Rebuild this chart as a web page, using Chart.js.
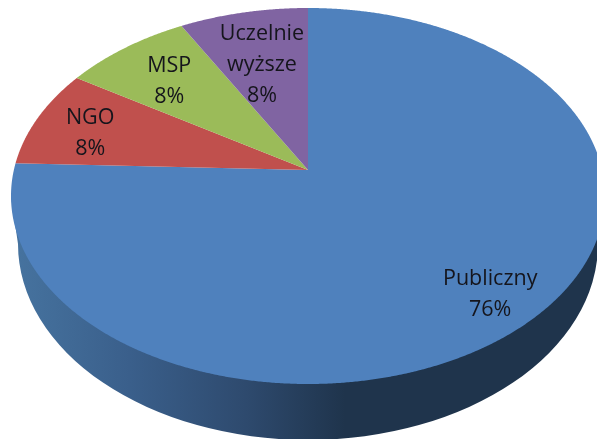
<!DOCTYPE html>
<html><head><meta charset="utf-8">
<style>html,body{margin:0;padding:0;background:#fff;overflow:hidden}canvas{display:block}</style>
<script src="https://cdn.jsdelivr.net/npm/chart.js@4"></script>
</head><body>
<canvas id="c" width="597" height="439"></canvas>
<script>
const categories = ['Publiczny', 'NGO', 'MSP', 'Uczelnie wyższe'];
const values = [75.6, 8.4, 8, 8];
const sliceColors = ['#4f81bd', '#c0504d', '#9bbb59', '#8064a2'];

// View of the tilted disc
const top3d = {cx: 308, cy: 196, rx: 297, ry: 188, tilt: -0.138};
const side3d = {cx: 308, cy: 244, rx: 290, ry: 196};
const labelPlace = [{r: 0.833, shift: 1}, {r: 0.791, shift: -1.75}, {r: 0.7285, shift: -0.8}, {r: 0.653, shift: -0.7}];
const lineGap = 31;
const textDrop = 1.5;

function project(u, v) {
  const a = top3d.tilt, d = 1 + a * v;
  return [top3d.cx + top3d.rx * u * Math.sqrt(1 - a * a) / d,
          top3d.cy + top3d.ry * (v + a) / d];
}
function drawSlice(ctx) {
  const {startAngle, endAngle, options} = this;
  ctx.save();
  ctx.beginPath();
  ctx.moveTo(...project(0, 0));
  const n = Math.ceil((endAngle - startAngle) / 0.005);
  for (let i = 0; i <= n; i++) {
    const t = startAngle + (endAngle - startAngle) * i / n;
    ctx.lineTo(...project(Math.cos(t), Math.sin(t)));
  }
  ctx.closePath();
  ctx.fillStyle = options.backgroundColor;
  ctx.fill();
  ctx.restore();
}
const pie3d = {
  id: 'pie3d',
  beforeDatasetsDraw(chart) {
    const ctx = chart.ctx;
    chart.getDatasetMeta(0).data.forEach(el => { el.draw = drawSlice; });
    const g = ctx.createLinearGradient(14, 0, 345, 0);
    g.addColorStop(0, '#46739f');
    g.addColorStop(0.35, '#3a5f8b');
    g.addColorStop(0.7, '#2e4a6e');
    g.addColorStop(1, '#1f344c');
    ctx.save();
    ctx.beginPath();
    ctx.moveTo(top3d.cx - top3d.rx, top3d.cy);
    ctx.lineTo(side3d.cx - side3d.rx, side3d.cy);
    ctx.ellipse(side3d.cx, side3d.cy, side3d.rx, side3d.ry, 0, Math.PI, 0, true);
    ctx.lineTo(top3d.cx + top3d.rx, top3d.cy);
    ctx.closePath();
    ctx.fillStyle = g;
    ctx.fill();
    ctx.restore();
  },
  afterDatasetsDraw(chart) {
    const ctx = chart.ctx, total = values.reduce((s, x) => s + x, 0);
    ctx.save();
    ctx.font = '21.5px "Open Sans", sans-serif';
    ctx.fillStyle = '#15151c';
    ctx.textAlign = 'center';
    ctx.textBaseline = 'middle';
    chart.getDatasetMeta(0).data.forEach((el, i) => {
      const mid = (el.startAngle + el.endAngle) / 2 + labelPlace[i].shift * Math.PI / 180;
      const [x, y] = project(labelPlace[i].r * Math.cos(mid), labelPlace[i].r * Math.sin(mid));
      const lines = categories[i].split(' ').concat(Math.round(values[i] / total * 100) + '%');
      lines.forEach((s, k) => ctx.fillText(s, x, y + textDrop + (k - (lines.length - 1) / 2) * lineGap));
    });
    ctx.restore();
  }
};
new Chart(document.getElementById('c'), {
  type: 'pie',
  data: {labels: categories, datasets: [{data: values, backgroundColor: sliceColors, borderWidth: 0}]},
  options: {
    responsive: false, animation: false, events: [],
    plugins: {legend: {display: false}, tooltip: {enabled: false}}
  },
  plugins: [pie3d]
});
</script>
</body></html>
